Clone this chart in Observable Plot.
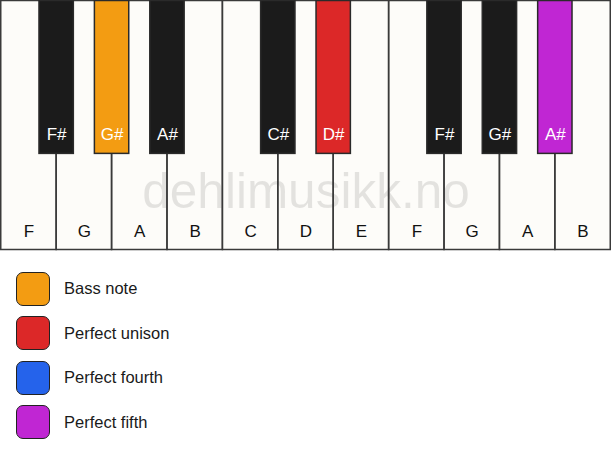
<!DOCTYPE html>
<html>
<head>
<meta charset="utf-8">
<script src="https://cdn.jsdelivr.net/npm/d3@7"></script>
<script src="https://cdn.jsdelivr.net/npm/@observablehq/plot@0.6"></script>
<style>
  html, body { margin: 0; padding: 0; background: #ffffff; }
  body { width: 611px; font-family: "Liberation Sans", Arial, sans-serif; }
  #legend { margin-top: 21px; }
  .row { display: flex; align-items: center; height: 33px; margin-bottom: 11.6px; }
  .sw { box-sizing: border-box; width: 34px; height: 34px; margin-left: 16px; border: 1.5px solid #222; border-radius: 7px; }
  .lab { margin-left: 14px; font-size: 16.5px; color: #1a1a1a; }
</style>
</head>
<body>
<div id="chart"></div>
<div id="legend"></div>
<script>
// ---- data ----
const whiteNotes = ["F", "G", "A", "B", "C", "D", "E", "F", "G", "A", "B"];
const blackNotes = ["F#", "G#", "A#", "C#", "D#", "F#", "G#", "A#"];
const blackSlots = [1, 2, 3, 5, 6, 8, 9, 10]; // white-key boundary each black key sits on
const blackRoles = ["none", "bass", "none", "none", "unison", "none", "none", "fifth"];
const legendRoles = ["bass", "unison", "fourth", "fifth"];
const legendLabels = ["Bass note", "Perfect unison", "Perfect fourth", "Perfect fifth"];
const roleColors = {none: "#1b1b1b", bass: "#f39c12", unison: "#dc2828", fourth: "#2563eb", fifth: "#c026d3"};
const watermark = "dehlimusikk.no";

// ---- tables ----
const whites = whiteNotes.map((n, i) => ({note: n, x1: i, x2: i + 1}));
const bw = 0.62;
const blacks = blackNotes.map((n, i) => ({note: n, x1: blackSlots[i] - bw / 2, x2: blackSlots[i] + bw / 2, role: blackRoles[i]}));
const blackLen = 0.614;

const chart = Plot.plot({
  width: 611,
  height: 251,
  margin: 0,
  x: {domain: [0, 11], range: [0.75, 610.25], axis: null},
  y: {domain: [0, 1], range: [0.5, 249.5], axis: null},
  style: {fontFamily: "'Liberation Sans', Arial, sans-serif", background: "transparent"},
  marks: [
    Plot.rect(whites, {x1: "x1", x2: "x2", y1: 0, y2: 1, fill: "#fdfcf9", stroke: "none"}),
    Plot.text([watermark], {x: 5.5, y: 0.832, text: d => d, fontSize: 49.5, fill: "#000", fillOpacity: 0.1, lineAnchor: "bottom", textAnchor: "middle"}),
    Plot.rect(whites, {x1: "x1", x2: "x2", y1: 0, y2: 1, fill: "none", stroke: "#3a3a3a", strokeWidth: 1.5}),
    Plot.text(whites, {x: d => (d.x1 + d.x2) / 2, y: 0.948, text: "note", fontSize: 17, fill: "#111", lineAnchor: "bottom"}),
    Plot.rect(blacks, {x1: "x1", x2: "x2", y1: 0, y2: blackLen, fill: d => roleColors[d.role], stroke: "#2a2a2a", strokeWidth: 1.5}),
    Plot.text(blacks, {x: d => (d.x1 + d.x2) / 2, y: 0.558, text: "note", fontSize: 17, fill: "#ffffff", lineAnchor: "bottom"})
  ]
});
document.getElementById("chart").appendChild(chart);

const legend = document.getElementById("legend");
legendRoles.forEach((r, i) => {
  const row = document.createElement("div");
  row.className = "row";
  const sw = document.createElement("div");
  sw.className = "sw";
  sw.style.background = roleColors[r];
  const lab = document.createElement("div");
  lab.className = "lab";
  lab.textContent = legendLabels[i];
  row.appendChild(sw);
  row.appendChild(lab);
  legend.appendChild(row);
});
</script>
</body>
</html>
